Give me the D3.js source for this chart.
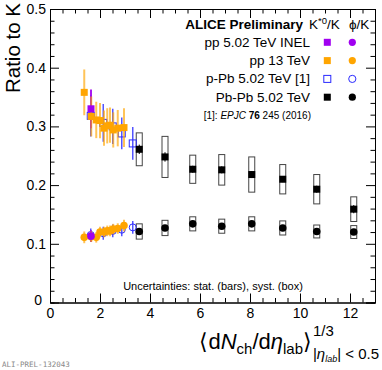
<!DOCTYPE html>
<html>
<head>
<meta charset="utf-8">
<title>Ratio to K</title>
<style>
  body { margin: 0; background: #fff; }
  svg { display: block; font-family: "Liberation Sans", Arial, sans-serif; }
  .axis path, .axis line { stroke: #000; }
  .axis text { font-size: 13px; fill: #000; font-family: "Liberation Sans", Arial, sans-serif; }
</style>
</head>
<body>
<svg width="382" height="370"></svg>
<script src="https://cdn.jsdelivr.net/npm/d3@7"></script>
<script>
// pp 13 TeV
const pp13X = [1.37, 1.65, 1.85, 2.00, 2.16, 2.29, 2.40, 2.53, 2.71, 2.96];
const pp13Kstar = [0.358, 0.317, 0.311, 0.310, 0.297, 0.301, 0.302, 0.294, 0.297, 0.298];
const pp13KstarErr = [0.039, 0.034, 0.031, 0.030, 0.030, 0.030, 0.030, 0.030, 0.031, 0.033];
const pp13Phi = [0.111, 0.112, 0.111, 0.120, 0.120, 0.122, 0.122, 0.125, 0.126, 0.131];
const pp13PhiErr = [0.010, 0.009, 0.009, 0.009, 0.009, 0.009, 0.009, 0.009, 0.009, 0.010];

// pp 5.02 TeV INEL
const pp5X = [1.64];
const pp5Kstar = [0.330];
const pp5KstarErr = [0.033];
const pp5Phi = [0.113];
const pp5PhiErr = [0.010];

// p-Pb 5.02 TeV [1]
const pPbX = [1.63, 2.13, 2.51, 2.87, 3.31];
const pPbKstar = [0.318, 0.306, 0.300, 0.288, 0.271];
const pPbKstarErr = [0.035, 0.032, 0.030, 0.027, 0.028];
const pPbPhi = [0.115, 0.118, 0.122, 0.124, 0.128];
const pPbPhiErr = [0.011, 0.011, 0.011, 0.011, 0.011];

// Pb-Pb 5.02 TeV
const PbPbX = [3.57, 4.60, 5.71, 6.87, 8.07, 9.31, 10.67, 12.15];
const PbPbKstar = [0.261, 0.248, 0.227, 0.226, 0.218, 0.210, 0.193, 0.159];
const PbPbKstarStat = [0.008, 0.008, 0.006, 0.006, 0.006, 0.005, 0.006, 0.007];
const PbPbKstarSys = [0.028, 0.035, 0.024, 0.026, 0.030, 0.025, 0.025, 0.021];
const PbPbPhi = [0.121, 0.127, 0.134, 0.130, 0.134, 0.127, 0.121, 0.120];
const PbPbPhiStat = [0.003, 0.003, 0.003, 0.003, 0.003, 0.003, 0.003, 0.003];
const PbPbPhiSys = [0.013, 0.013, 0.012, 0.012, 0.012, 0.012, 0.011, 0.011];

const xMajor = [0, 2, 4, 6, 8, 10, 12];
const yMajor = [0, 0.1, 0.2, 0.3, 0.4, 0.5];

const ORANGE = "#ffa500", PURPLE = "#a000f0", BLUE = "#2a2aff";

const x = d3.scaleLinear().domain([0, 13]).range([50, 375]);
const y = d3.scaleLinear().domain([0, 0.5]).range([302.5, 9]);

const svg = d3.select("svg");

// axes: major + minor ticks on all four sides, pointing inward
const xMinor = d3.range(0, 13.01, 0.5).filter(v => v % 2 !== 0);
const yMinor = d3.range(0, 0.501, 0.02).filter(v => Math.abs(v * 10 - Math.round(v * 10)) > 1e-6);

svg.append("g").attr("class", "axis").attr("transform", "translate(0,302.5)")
  .call(d3.axisBottom(x).tickValues(xMajor).tickSizeInner(-9).tickSizeOuter(0).tickPadding(6))
  .selectAll("text").style("font-size", "14px");
svg.append("g").attr("class", "axis").attr("transform", "translate(0,302.5)")
  .call(d3.axisBottom(x).tickValues(xMinor).tickSize(-4.5).tickFormat(""));
svg.append("g").attr("class", "axis").attr("transform", "translate(0,9)")
  .call(d3.axisTop(x).tickValues(xMajor).tickSize(-9).tickFormat(""));
svg.append("g").attr("class", "axis").attr("transform", "translate(0,9)")
  .call(d3.axisTop(x).tickValues(xMinor).tickSize(-4.5).tickFormat(""));

svg.append("g").attr("class", "axis").attr("transform", "translate(50,0)")
  .call(d3.axisLeft(y).tickValues(yMajor).tickSizeInner(-9).tickSizeOuter(0).tickPadding(4)
    .tickFormat(d => d === 0 ? "" : d.toFixed(1)))
  .selectAll("text").style("font-size", "14px");
svg.append("g").attr("class", "axis").attr("transform", "translate(50,0)")
  .call(d3.axisLeft(y).tickValues(yMinor).tickSize(-4.5).tickFormat(""));
svg.append("g").attr("class", "axis").attr("transform", "translate(375,0)")
  .call(d3.axisRight(y).tickValues(yMajor).tickSize(-9).tickFormat(""));
svg.append("g").attr("class", "axis").attr("transform", "translate(375,0)")
  .call(d3.axisRight(y).tickValues(yMinor).tickSize(-4.5).tickFormat(""));

// zero label sits low-left, ROOT style
svg.append("text").attr("x", 42).attr("y", y(0) + 2).attr("text-anchor", "end")
  .style("font-size", "14px").text("0");

// y title
svg.append("text")
  .attr("transform", "translate(20,3) rotate(-90)")
  .attr("text-anchor", "end")
  .style("font-size", "20.5px")
  .text("Ratio to K");

// x title
const xt = svg.append("text").attr("x", 312).attr("y", 349).attr("text-anchor", "end").style("font-size", "22px");
xt.append("tspan").text("\u27E8d");
xt.append("tspan").style("font-style", "italic").text("N");
xt.append("tspan").attr("dy", 5).style("font-size", "15px").text("ch");
xt.append("tspan").attr("dy", -5).text("/d");
xt.append("tspan").style("font-style", "italic").text("\u03B7");
xt.append("tspan").attr("dy", 5).style("font-size", "15px").text("lab");
xt.append("tspan").attr("dy", -5).text("\u27E9");
svg.append("text").attr("x", 313).attr("y", 336).style("font-size", "15px").text("1/3");
const xs = svg.append("text").attr("x", 379).attr("y", 359).attr("text-anchor", "end").style("font-size", "15px");
xs.append("tspan").text("|");
xs.append("tspan").style("font-style", "italic").text("\u03B7");
xs.append("tspan").attr("dy", 3).style("font-size", "9px").style("font-style", "italic").text("lab");
xs.append("tspan").attr("dy", -3).text("| < 0.5");

svg.append("text").attr("x", 2).attr("y", 367)
  .style("font-family", "'DejaVu Sans Mono', monospace").style("font-size", "7.5px").style("fill", "#888")
  .text("ALI-PREL-132043");

svg.append("text").attr("x", 213).attr("y", 290).attr("text-anchor", "middle")
  .style("font-size", "11px").text("Uncertainties: stat. (bars), syst. (box)");

// helpers
function pts(xs, ys, es) { return xs.map((v, i) => ({ x: v, y: ys[i], e: es[i] })); }

function errBars(data, color, width, opacity) {
  svg.append("g").selectAll("line").data(data).join("line")
    .attr("x1", d => x(d.x)).attr("x2", d => x(d.x))
    .attr("y1", d => y(d.y - d.e)).attr("y2", d => y(d.y + d.e))
    .attr("stroke", color).attr("stroke-width", width).attr("opacity", opacity);
}
function squares(data, color, open, size) {
  svg.append("g").selectAll("rect").data(data).join("rect")
    .attr("x", d => x(d.x) - size / 2).attr("y", d => y(d.y) - size / 2)
    .attr("width", size).attr("height", size)
    .attr("fill", open ? "none" : color).attr("stroke", open ? color : "none").attr("stroke-width", 1);
}
function circles(data, color, open, r) {
  svg.append("g").selectAll("circle").data(data).join("circle")
    .attr("cx", d => x(d.x)).attr("cy", d => y(d.y)).attr("r", r)
    .attr("fill", open ? "none" : color).attr("stroke", open ? color : "none").attr("stroke-width", 1);
}
function sysBoxes(data) {
  svg.append("g").selectAll("rect").data(data).join("rect")
    .attr("x", d => x(d.x - 0.12)).attr("width", x(0.24) - x(0))
    .attr("y", d => y(d.y + d.e)).attr("height", d => y(d.y - d.e) - y(d.y + d.e))
    .attr("fill", "none").attr("stroke", "#444").attr("stroke-width", 1);
}

// Pb-Pb systematic boxes
sysBoxes(pts(PbPbX, PbPbKstar, PbPbKstarSys));
sysBoxes(pts(PbPbX, PbPbPhi, PbPbPhiSys));

// p-Pb
errBars(pts(pPbX, pPbKstar, pPbKstarErr), BLUE, 1.5, 0.8);
errBars(pts(pPbX, pPbPhi, pPbPhiErr), BLUE, 1.5, 0.8);
squares(pts(pPbX, pPbKstar, pPbKstarErr), BLUE, true, 7);
circles(pts(pPbX, pPbPhi, pPbPhiErr), BLUE, true, 3.5);

// pp 5.02 INEL
errBars(pts(pp5X, pp5Kstar, pp5KstarErr), PURPLE, 2, 0.9);
errBars(pts(pp5X, pp5Phi, pp5PhiErr), PURPLE, 2, 0.9);

// pp 13
errBars(pts(pp13X, pp13Kstar, pp13KstarErr), ORANGE, 2, 0.65);
errBars(pts(pp13X, pp13Phi, pp13PhiErr), ORANGE, 2, 0.65);
squares(pts(pp13X, pp13Kstar, pp13KstarErr), ORANGE, false, 7);
circles(pts(pp13X, pp13Phi, pp13PhiErr), ORANGE, false, 3.8);

squares(pts(pp5X, pp5Kstar, pp5KstarErr), PURPLE, false, 7);
circles(pts(pp5X, pp5Phi, pp5PhiErr), PURPLE, false, 3.8);

// Pb-Pb
errBars(pts(PbPbX, PbPbKstar, PbPbKstarStat), "#000", 1, 1);
errBars(pts(PbPbX, PbPbPhi, PbPbPhiStat), "#000", 1, 1);
squares(pts(PbPbX, PbPbKstar, PbPbKstarSys), "#000", false, 7);
circles(pts(PbPbX, PbPbPhi, PbPbPhiSys), "#000", false, 3.8);

// legend
const legendNames = ["pp 5.02 TeV INEL", "pp 13 TeV", "p-Pb 5.02 TeV [1]", "Pb-Pb 5.02 TeV"];
const legendColors = [PURPLE, ORANGE, BLUE, "#000"];
const legendOpen = [false, false, true, false];

const lg = svg.append("g");
lg.append("text").attr("x", 303).attr("y", 29).attr("text-anchor", "end")
  .style("font-size", "13.5px").style("font-weight", "bold").text("ALICE Preliminary");
const kt = lg.append("text").attr("x", 309).attr("y", 29).style("font-size", "13.5px");
kt.append("tspan").text("K");
kt.append("tspan").attr("dy", -5).style("font-size", "9.5px").text("*0");
kt.append("tspan").attr("dy", 5).text("/K");
lg.append("text").attr("x", 349).attr("y", 29).style("font-size", "13.5px").text("\u03D5/K");

legendNames.forEach((name, i) => {
  const cy = 42.3 + i * 18.3;
  lg.append("text").attr("x", 310).attr("y", cy + 4.5).attr("text-anchor", "end")
    .style("font-size", "13.5px").text(name);
  lg.append("rect").attr("x", 327.3 - 3.5).attr("y", cy - 3.5).attr("width", 7).attr("height", 7)
    .attr("fill", legendOpen[i] ? "none" : legendColors[i]).attr("stroke", legendOpen[i] ? legendColors[i] : "none");
  lg.append("circle").attr("cx", 352.3).attr("cy", cy).attr("r", 3.6)
    .attr("fill", legendOpen[i] ? "none" : legendColors[i]).attr("stroke", legendOpen[i] ? legendColors[i] : "none");
});
const ref = lg.append("text").attr("x", 311).attr("y", 119).attr("text-anchor", "end").style("font-size", "10px");
ref.append("tspan").text("[1]: ");
ref.append("tspan").style("font-style", "italic").text("EPJC");
ref.append("tspan").style("font-weight", "bold").text(" 76");
ref.append("tspan").text(" 245 (2016)");
</script>
</body>
</html>
